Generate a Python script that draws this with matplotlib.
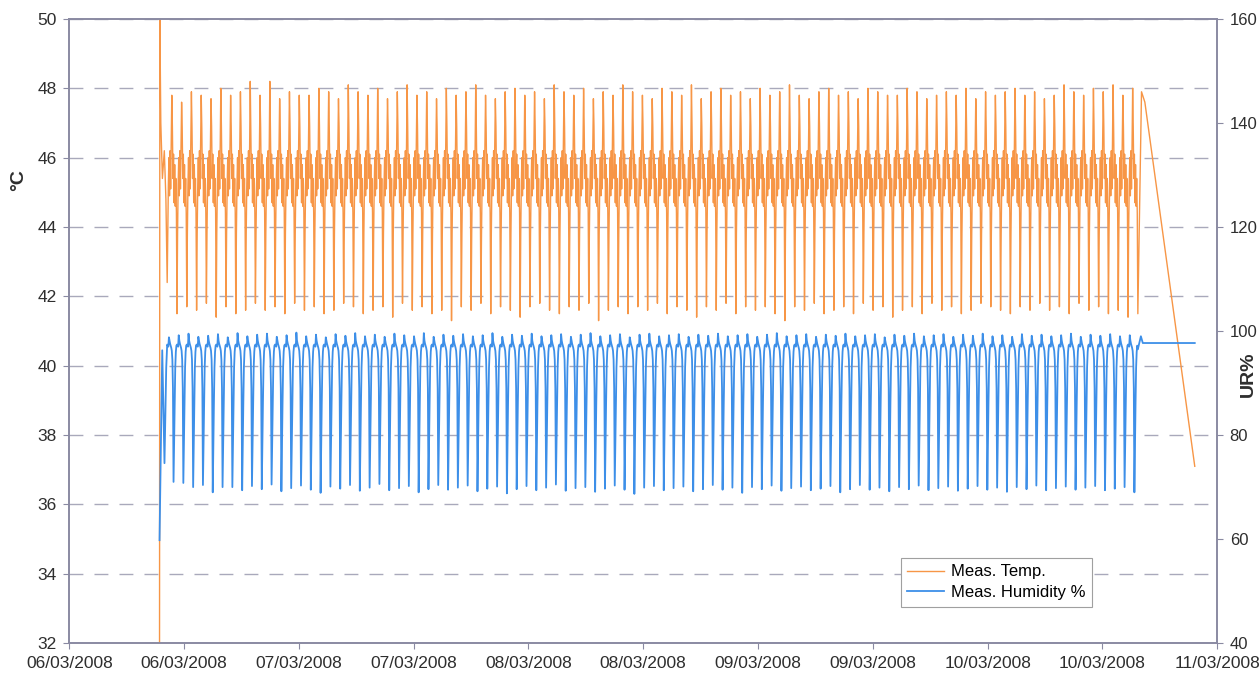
import numpy as np
import matplotlib
matplotlib.use('Agg')
import matplotlib.pyplot as plt
import matplotlib.dates as mdates

plt.rcParams['font.family'] = ['Liberation Sans', 'DejaVu Sans']

# Dados (um ciclo por hora, aprox.)
inicio = np.datetime64('2008-03-06T10:14')   # primeiro vale da temperatura
periodo_min = 61.5                            # duração de um ciclo (min)

# temperatura: vale / pico de cada ciclo (°C)
temp_vale = [42.4, 41.5, 41.7, 41.6, 41.8, 41.4, 41.7, 41.5, 41.6, 41.8,
             41.6, 41.7, 41.5, 41.8, 41.6, 41.7, 41.5, 41.6, 41.8, 41.7,
             41.5, 41.6, 41.7, 41.4, 41.8, 41.6, 41.7, 41.5, 41.6, 41.3,
             41.7, 41.6, 41.8, 41.5, 41.7, 41.6, 41.4, 41.7, 41.8, 41.6,
             41.5, 41.7, 41.6, 41.8, 41.3, 41.6, 41.7, 41.5, 41.7, 41.6,
             41.8, 41.5, 41.7, 41.6, 41.4, 41.7, 41.6, 41.8, 41.5, 41.7,
             41.6, 41.7, 41.5, 41.3, 41.7, 41.6, 41.8, 41.5, 41.6, 41.7,
             41.5, 41.8, 41.6, 41.7, 41.4, 41.6, 41.7, 41.5, 41.8, 41.6,
             41.7, 41.5, 41.6, 41.8, 41.7, 41.6, 41.5, 41.7, 41.6, 41.8,
             41.6, 41.7, 41.5, 41.8, 41.6, 41.7, 41.5, 41.6, 41.4]
temp_pico = [47.8, 47.6, 47.9, 47.8, 47.7, 48.0, 47.8, 47.9, 48.2, 47.8,
             48.2, 47.7, 47.9, 47.8, 47.8, 48.0, 47.9, 47.7, 48.1, 47.9,
             47.8, 48.0, 47.7, 47.9, 48.1, 47.8, 47.9, 47.7, 48.0, 47.8,
             47.9, 48.1, 47.8, 47.7, 47.9, 48.0, 47.8, 47.9, 47.7, 48.1,
             47.9, 47.8, 48.0, 47.7, 47.9, 47.8, 48.1, 47.9, 47.8, 47.7,
             48.0, 47.9, 47.8, 48.1, 47.7, 47.9, 48.0, 47.8, 47.9, 47.7,
             48.0, 47.8, 47.9, 48.1, 47.8, 47.7, 47.9, 48.0, 47.8, 47.9,
             47.7, 48.0, 47.9, 47.8, 47.8, 48.0, 47.9, 47.7, 47.8, 47.9,
             47.8, 48.0, 47.7, 47.9, 47.8, 47.9, 48.0, 47.8, 47.9, 47.7,
             47.8, 48.1, 47.9, 47.8, 48.0, 47.9, 48.1, 47.8, 48.0]
# forma típica de um ciclo (subida e descida, entre vale e pico)
temp_subida = [43.8, 45.2, 46.0, 44.9, 46.2, 45.1, 46.4]
temp_descida = [46.9, 45.4, 46.1, 44.7, 45.8, 44.6, 45.4, 44.4]

# umidade: topo / vale de cada ciclo (%)
umid_topo = [98.8, 99.2, 99.5, 98.9, 99.1, 99.4, 98.8, 99.6, 99.0, 99.3,
             99.5, 98.9, 99.2, 99.7, 99.0, 99.3, 98.8, 99.4, 99.1, 99.6,
             99.0, 99.3, 98.9, 99.5, 99.2, 99.0, 99.6, 98.9, 99.3, 99.1,
             99.4, 99.0, 99.2, 99.6, 98.9, 99.3, 99.1, 99.5, 99.0, 99.2,
             99.4, 98.9, 99.3, 99.6, 99.0, 99.2, 99.4, 98.8, 99.3, 99.5,
             99.0, 99.2, 99.4, 98.9, 99.3, 99.1, 99.5, 99.0, 99.2, 99.4,
             98.9, 99.3, 99.6, 99.0, 99.2, 99.4, 98.9, 99.3, 99.1, 99.5,
             99.0, 99.2, 99.4, 98.8, 99.3, 99.1, 99.5, 99.0, 99.2, 99.4,
             98.9, 99.3, 99.1, 99.5, 99.0, 99.2, 98.9, 99.4, 99.1, 99.3,
             99.0, 99.2, 99.5, 98.9, 99.3, 99.1, 99.4, 99.0, 99.2]
umid_vale = [71.0, 70.8, 70.0, 70.4, 69.0, 70.0, 70.0, 69.4, 70.2, 69.6,
             70.5, 69.2, 69.8, 70.3, 69.5, 68.9, 70.1, 69.7, 70.4, 69.3,
             69.9, 70.6, 69.4, 69.8, 70.2, 69.0, 69.6, 70.4, 69.5, 69.9,
             70.3, 69.2, 69.7, 70.1, 68.8, 69.6, 70.2, 69.4, 69.9, 70.5,
             69.3, 69.8, 70.0, 69.1, 69.7, 70.3, 69.5, 68.7, 69.9, 70.2,
             69.4, 69.8, 70.1, 69.2, 69.6, 70.4, 69.5, 69.9, 68.9, 70.0,
             69.6, 70.3, 69.3, 69.8, 70.1, 69.4, 69.7, 70.2, 69.0, 69.6,
             70.4, 69.5, 69.9, 69.2, 70.0, 69.6, 70.3, 69.4, 69.8, 70.1,
             69.3, 69.7, 70.2, 69.5, 69.9, 69.1, 70.0, 69.6, 70.3, 69.4,
             69.8, 70.1, 69.5, 69.9, 70.2, 69.4, 69.7, 70.0, 69.0]
# forma de um ciclo de umidade (topo na posição 3, vale na posição 11)
umid_forma = [97.4, 97.2, 97.0, None, 98.2, 97.6, 97.2, 96.8, 96.2, 94.5,
              89.0, None, 78.0, 86.0, 93.0, 96.0, 97.2]

# início e fim da série (min em relação ao primeiro / último vale)
temp_ini_min = [-48, -46, -40, -30, -18, -8]
temp_ini = [32.0, 50.0, 47.0, 45.4, 46.2, 44.8]
umid_ini_min = [-48, -31, -17, -6]
umid_ini = [59.8, 96.3, 74.6, 93.0]
temp_fim_min = [0, 23, 44, 357]
temp_fim = [41.5, 47.9, 47.6, 37.1]
umid_fim_min = [0, 19, 31, 357]
umid_fim = [96.5, 99.0, 97.7, 97.7]

# Montagem das séries
n_ciclos = len(temp_pico)
n_pontos = 1 + len(temp_subida) + 1 + len(temp_descida)
passo = periodo_min / n_pontos

temp_y, umid_y = [], []
for i in range(n_ciclos):
    temp_y += [temp_vale[i]] + temp_subida + [temp_pico[i]] + temp_descida
    forma = list(umid_forma)
    forma[3] = umid_topo[i]
    forma[11] = umid_vale[i]
    umid_y += forma

t_ciclos = inicio + (np.arange(len(temp_y)) * passo * 60).astype('timedelta64[s]')
ultimo_vale = inicio + np.timedelta64(int(n_ciclos * periodo_min * 60), 's')


def tempos(ref, minutos):
    return ref + (np.array(minutos) * 60).astype('timedelta64[s]')


t_temp = np.concatenate([tempos(inicio, temp_ini_min), t_ciclos, tempos(ultimo_vale, temp_fim_min)])
y_temp = temp_ini + temp_y + temp_fim
t_umid = np.concatenate([tempos(inicio, umid_ini_min), t_ciclos, tempos(ultimo_vale, umid_fim_min)])
y_umid = umid_ini + umid_y + umid_fim

# Gráfico
fig = plt.figure(figsize=(12.6, 6.77), dpi=100)
ax = fig.add_axes([0.055, 0.050, 0.911, 0.922])
ax2 = ax.twinx()

cor_eixo = '#8a8aa2'
cor_texto = '#2e2e2e'
l1, = ax.plot(t_temp, y_temp, color='#f79646', linewidth=1.0, label='Meas. Temp.')
l2, = ax2.plot(t_umid, y_umid, color='#3d8fe8', linewidth=1.3, label='Meas. Humidity %')

ax.set_xlim(np.datetime64('2008-03-06T00:00'), np.datetime64('2008-03-11T00:00'))
ax.set_ylim(32, 50)
ax.set_yticks(np.arange(32, 51, 2))
ax2.set_ylim(40, 160)
ax2.set_yticks(np.arange(40, 161, 20))

ax.xaxis.set_major_locator(mdates.HourLocator(byhour=[0, 12]))
ax.xaxis.set_major_formatter(mdates.DateFormatter('%d/%m/%Y'))

ax.grid(axis='y', color='#a9a9bb', linestyle=(0, (10, 8)), linewidth=1.0)
ax.set_axisbelow(True)

for a in (ax, ax2):
    for s in a.spines.values():
        s.set_color(cor_eixo)
        s.set_linewidth(1.2)
    a.tick_params(colors=cor_eixo, labelcolor=cor_texto, labelsize=12.5, length=4, pad=5)
ax2.tick_params(labelsize=12)

ax.set_ylabel('°C', fontsize=14, fontweight='bold', color=cor_texto)
ax.yaxis.set_label_coords(-0.037, 0.742)
ax2.set_ylabel('UR%', fontsize=14, fontweight='bold', color=cor_texto)
ax2.yaxis.set_label_coords(1.02, 0.43)

leg = ax2.legend(handles=[l1, l2], loc='lower left', bbox_to_anchor=(0.72, 0.05),
                 fontsize=12, fancybox=False, framealpha=1.0, edgecolor='#a0a0a0',
                 handlelength=2.2, handletextpad=0.4, borderpad=0.4, labelspacing=0.35,
                 borderaxespad=0.3)
leg.get_frame().set_linewidth(0.8)

plt.savefig('out.png', dpi=100)
